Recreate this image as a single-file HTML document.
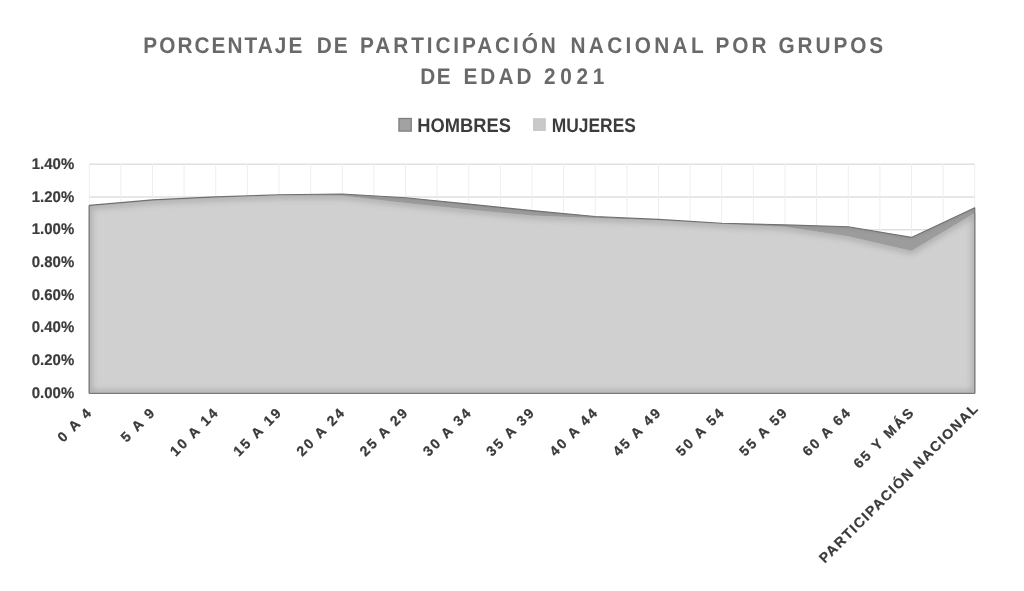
<!DOCTYPE html>
<html><head><meta charset="utf-8"><title>Porcentaje de participación nacional por grupos de edad 2021</title>
<style>
html,body{margin:0;padding:0;background:#fff;}
body{width:1024px;height:591px;overflow:hidden;}
svg{display:block;}
text{font-family:"Liberation Sans",sans-serif;font-weight:bold;text-rendering:geometricPrecision;}
.title{font-size:22.6px;fill:#696969;}
.leg{font-size:19.6px;fill:#3c3c3c;}
.yl{font-size:15.45px;fill:#3c3c3c;stroke:#3c3c3c;stroke-width:0.2px;}
.xl{font-size:14px;fill:#3a3a3a;letter-spacing:2.1px;stroke:#3a3a3a;stroke-width:0.25px;}
</style></head><body>
<svg width="1024" height="591" viewBox="0 0 1024 591">
<defs>
<filter id="blur" x="-5%" y="-5%" width="110%" height="110%"><feGaussianBlur stdDeviation="3"/></filter>
<filter id="blur2" x="-5%" y="-5%" width="110%" height="110%"><feGaussianBlur stdDeviation="1.6"/></filter>

<clipPath id="cm"><path d="M89.25,393.30 L89.25,206.20 L152.50,200.70 L215.75,197.70 L279.00,195.60 L342.25,195.50 L405.50,202.90 L468.75,209.60 L532.00,215.50 L595.25,217.90 L658.50,220.20 L721.75,223.90 L785.00,226.70 L848.25,236.30 L911.50,250.80 L974.75,212.90 L974.75,393.30 Z"/></clipPath>
<clipPath id="ch"><path d="M89.25,393.30 L89.25,205.40 L152.50,199.90 L215.75,196.90 L279.00,194.80 L342.25,194.00 L405.50,197.70 L468.75,204.10 L532.00,210.60 L595.25,216.50 L658.50,219.40 L721.75,223.20 L785.00,224.90 L848.25,226.70 L911.50,237.40 L974.75,207.80 L974.75,393.30 Z"/></clipPath>
</defs>
<rect width="1024" height="591" fill="#fff"/>
<text class="title" transform="translate(0,53.3) scale(0.92,1)"><tspan x="155.76" style="letter-spacing:2.23px">PORCENTAJE</tspan> <tspan x="344.34" style="letter-spacing:2.12px">DE</tspan> <tspan x="391.41" style="letter-spacing:3.15px">PARTICIPACIÓN</tspan> <tspan x="620.00" style="letter-spacing:3.66px">NACIONAL</tspan> <tspan x="777.71" style="letter-spacing:3.23px">POR</tspan> <tspan x="846.20" style="letter-spacing:3.16px">GRUPOS</tspan></text>
<text class="title" transform="translate(0,84.3) scale(0.92,1)"><tspan x="456.73" style="letter-spacing:1.58px">DE</tspan> <tspan x="503.80" style="letter-spacing:3.27px">EDAD</tspan> <tspan x="591.18" style="letter-spacing:5.18px">2021</tspan></text>
<rect x="398.95" y="118.5" width="12.3" height="12.6" fill="#a2a2a2" stroke="#7e7e7e" stroke-width="1.3"/>
<text class="leg" x="417.3" y="131.6" textLength="93.6" lengthAdjust="spacingAndGlyphs">HOMBRES</text>
<rect x="533.4" y="118.7" width="11.9" height="11.9" fill="#c9c9c9" stroke="#c1c1c1" stroke-width="0.8"/>
<text class="leg" x="551.7" y="131.6" textLength="84.2" lengthAdjust="spacingAndGlyphs">MUJERES</text>
<path d="M89.25,393.30 H974.75 M89.25,360.59 H974.75 M89.25,327.87 H974.75 M89.25,295.16 H974.75 M89.25,262.44 H974.75 M89.25,229.73 H974.75 M89.25,197.01 H974.75 M89.25,164.30 H974.75" stroke="#e0e0e0" stroke-width="1.4" fill="none"/>
<path d="M89.25,163.60000000000002 V393.3 M120.88,163.60000000000002 V393.3 M152.50,163.60000000000002 V393.3 M184.12,163.60000000000002 V393.3 M215.75,163.60000000000002 V393.3 M247.38,163.60000000000002 V393.3 M279.00,163.60000000000002 V393.3 M310.62,163.60000000000002 V393.3 M342.25,163.60000000000002 V393.3 M373.88,163.60000000000002 V393.3 M405.50,163.60000000000002 V393.3 M437.12,163.60000000000002 V393.3 M468.75,163.60000000000002 V393.3 M500.38,163.60000000000002 V393.3 M532.00,163.60000000000002 V393.3 M563.62,163.60000000000002 V393.3 M595.25,163.60000000000002 V393.3 M626.88,163.60000000000002 V393.3 M658.50,163.60000000000002 V393.3 M690.12,163.60000000000002 V393.3 M721.75,163.60000000000002 V393.3 M753.38,163.60000000000002 V393.3 M785.00,163.60000000000002 V393.3 M816.62,163.60000000000002 V393.3 M848.25,163.60000000000002 V393.3 M879.88,163.60000000000002 V393.3 M911.50,163.60000000000002 V393.3 M943.12,163.60000000000002 V393.3 M974.75,163.60000000000002 V393.3" stroke="#eeeeee" stroke-width="1" fill="none"/>
<text class="yl" x="31.8" y="397.80" textLength="42.4" lengthAdjust="spacingAndGlyphs">0.00%</text>
<text class="yl" x="31.8" y="365.09" textLength="42.4" lengthAdjust="spacingAndGlyphs">0.20%</text>
<text class="yl" x="31.8" y="332.37" textLength="42.4" lengthAdjust="spacingAndGlyphs">0.40%</text>
<text class="yl" x="31.8" y="299.66" textLength="42.4" lengthAdjust="spacingAndGlyphs">0.60%</text>
<text class="yl" x="31.8" y="266.94" textLength="42.4" lengthAdjust="spacingAndGlyphs">0.80%</text>
<text class="yl" x="31.8" y="234.23" textLength="42.4" lengthAdjust="spacingAndGlyphs">1.00%</text>
<text class="yl" x="31.8" y="201.51" textLength="42.4" lengthAdjust="spacingAndGlyphs">1.20%</text>
<text class="yl" x="31.8" y="168.80" textLength="42.4" lengthAdjust="spacingAndGlyphs">1.40%</text>
<path d="M89.25,393.30 L89.25,205.40 L152.50,199.90 L215.75,196.90 L279.00,194.80 L342.25,194.00 L405.50,197.70 L468.75,204.10 L532.00,210.60 L595.25,216.50 L658.50,219.40 L721.75,223.20 L785.00,224.90 L848.25,226.70 L911.50,237.40 L974.75,207.80 L974.75,393.30 Z" fill="#9c9c9c"/>
<g clip-path="url(#ch)"><path d="M89.25,393.30 L89.25,205.40 L152.50,199.90 L215.75,196.90 L279.00,194.80 L342.25,194.00 L405.50,197.70 L468.75,204.10 L532.00,210.60 L595.25,216.50 L658.50,219.40 L721.75,223.20 L785.00,224.90 L848.25,226.70 L911.50,237.40 L974.75,207.80 L974.75,393.30 Z" fill="none" stroke="#707070" stroke-width="3" filter="url(#blur2)" opacity="0.22"/></g>
<path d="M89.25,393.30 L89.25,205.40 L152.50,199.90 L215.75,196.90 L279.00,194.80 L342.25,194.00 L405.50,197.70 L468.75,204.10 L532.00,210.60 L595.25,216.50 L658.50,219.40 L721.75,223.20 L785.00,224.90 L848.25,226.70 L911.50,237.40 L974.75,207.80 L974.75,393.30 Z" fill="none" stroke="#707070" stroke-width="1.1" stroke-linejoin="round"/>
<path d="M89.25,393.30 L89.25,206.20 L152.50,200.70 L215.75,197.70 L279.00,195.60 L342.25,195.50 L405.50,202.90 L468.75,209.60 L532.00,215.50 L595.25,217.90 L658.50,220.20 L721.75,223.90 L785.00,226.70 L848.25,236.30 L911.50,250.80 L974.75,212.90 L974.75,393.30 Z" fill="#d0d0d0"/>
<g clip-path="url(#cm)"><path d="M89.25,393.30 L89.25,206.20 L152.50,200.70 L215.75,197.70 L279.00,195.60 L342.25,195.50 L405.50,202.90 L468.75,209.60 L532.00,215.50 L595.25,217.90 L658.50,220.20 L721.75,223.90 L785.00,226.70 L848.25,236.30 L911.50,250.80 L974.75,212.90 L974.75,393.30 Z" fill="none" stroke="#808080" stroke-width="5" filter="url(#blur)" opacity="0.52"/></g>
<path d="M89.25,206.2 V393.3 H974.75 V212.9" fill="none" stroke="#747474" stroke-width="1"/>
<text class="xl" transform="translate(93.55,412.7) rotate(-45)" text-anchor="end">0 A 4</text>
<text class="xl" transform="translate(156.80,412.7) rotate(-45)" text-anchor="end">5 A 9</text>
<text class="xl" transform="translate(220.05,412.7) rotate(-45)" text-anchor="end">10 A 14</text>
<text class="xl" transform="translate(283.30,412.7) rotate(-45)" text-anchor="end">15 A 19</text>
<text class="xl" transform="translate(346.55,412.7) rotate(-45)" text-anchor="end">20 A 24</text>
<text class="xl" transform="translate(409.80,412.7) rotate(-45)" text-anchor="end">25 A 29</text>
<text class="xl" transform="translate(473.05,412.7) rotate(-45)" text-anchor="end">30 A 34</text>
<text class="xl" transform="translate(536.30,412.7) rotate(-45)" text-anchor="end">35 A 39</text>
<text class="xl" transform="translate(599.55,412.7) rotate(-45)" text-anchor="end">40 A 44</text>
<text class="xl" transform="translate(662.80,412.7) rotate(-45)" text-anchor="end">45 A 49</text>
<text class="xl" transform="translate(726.05,412.7) rotate(-45)" text-anchor="end">50 A 54</text>
<text class="xl" transform="translate(789.30,412.7) rotate(-45)" text-anchor="end">55 A 59</text>
<text class="xl" transform="translate(852.55,412.7) rotate(-45)" text-anchor="end">60 A 64</text>
<text class="xl" transform="translate(915.80,412.7) rotate(-45)" text-anchor="end">65 Y MÁS</text>
<text class="xl" transform="translate(979.65,408.9) rotate(-45)" text-anchor="end" style="letter-spacing:1.5px">PARTICIPACIÓN NACIONAL</text>
</svg></body></html>
